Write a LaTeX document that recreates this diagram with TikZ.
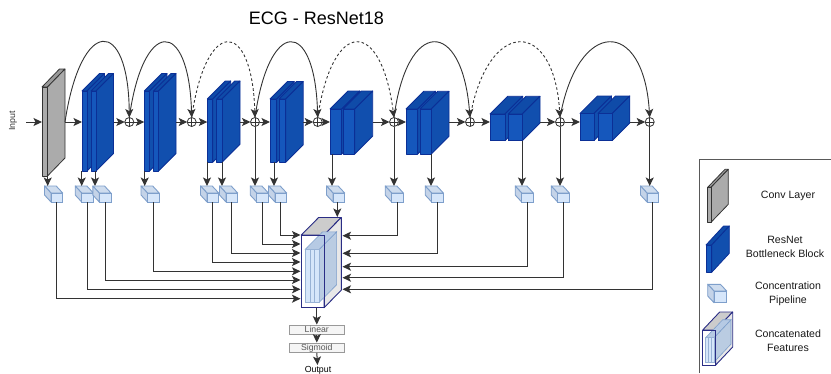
\documentclass[tikz,border=0pt]{standalone}
\usepackage{fontspec}
\setmainfont{Liberation Sans}
\usetikzlibrary{arrows.meta,calc}
\definecolor{blkF}{HTML}{1557BC}
\definecolor{blkT}{HTML}{0F4BA8}
\definecolor{blkS}{HTML}{114FAE}
\definecolor{blkE}{HTML}{0B2F96}
\definecolor{gryF}{HTML}{ABABAB}
\definecolor{gryT}{HTML}{9A9A9A}
\definecolor{gryS}{HTML}{ABABAB}
\definecolor{gryE}{HTML}{333333}
\definecolor{cubF}{HTML}{D6E6FA}
\definecolor{cubT}{HTML}{CEDCEE}
\definecolor{cubS}{HTML}{C4D3E8}
\definecolor{cubE}{HTML}{7E9FCB}
\definecolor{navy}{HTML}{2A2D85}
\definecolor{conn}{HTML}{333333}
\definecolor{innerS}{HTML}{BACCE2}
\tikzset{
  connector/.style={draw=conn,line width=1pt,-{Stealth[length=8.5pt,width=8pt,inset=2pt]}},
  skipline/.style={connector,line width=0.9pt},
  skipdash/.style={skipline,dash pattern=on 2.6pt off 2.4pt},
  plusnode/.style={circle,draw=conn,line width=0.8pt,minimum size=9pt,inner sep=0pt,outer sep=0pt,
    path picture={\draw[conn,line width=0.8pt] (path picture bounding box.north)--(path picture bounding box.south)
      (path picture bounding box.west)--(path picture bounding box.east);}},
  cubeface/.style={draw=cubE,fill=cubF,line width=0.9pt,minimum width=11.7pt,minimum height=9pt,inner sep=0pt,outer sep=0pt},
  headbox/.style={draw=black!40,fill=black!4,line width=1pt,minimum width=55pt,minimum height=9.2pt,inner sep=0pt,
    text=black!65,font=\fontsize{8.7}{9}\selectfont,text height=6.2pt,text depth=1.2pt},
  legendtext/.style={align=center,font=\fontsize{10.6}{13.6}\selectfont,text=black!90},
}
% front rectangle + top + side of a slab; #7 = colour family
\newcommand{\plate}[7]{%
  \draw[draw=#7E,line width=0.8pt,line join=round,fill=#7T] (#1,#2)--(#1+#5,#2-#6)--(#3+#5,#2-#6)--(#3,#2)--cycle;
  \draw[draw=#7E,line width=0.8pt,line join=round,fill=#7S] (#3,#2)--(#3+#5,#2-#6)--(#3+#5,#4-#6)--(#3,#4)--cycle;
  \draw[draw=#7E,line width=0.8pt,line join=round,fill=#7F] (#1,#2) rectangle (#3,#4);
}
% two-slab block: x1 x2 x3 x4 ytop ybot depth
\newcommand{\stackblock}[8]{%
  \plate{#2}{#6}{#3}{#7}{#8}{#8}{blk}
  \plate{#4}{#6}{#5}{#7}{#8}{#8}{blk}
  \coordinate (#1w) at (#2,122);
  \coordinate (#1e) at (#5+#8,122);
}
\newcommand{\cubenode}[2]{%
  \draw[draw=cubE,fill=cubT,line width=0.9pt,line join=round] (#2,193)--(#2+11.7,193)--(#2+5.2,186)--(#2-6.5,186)--cycle;
  \draw[draw=cubE,fill=cubS,line width=0.9pt,line join=round] (#2,193)--(#2,202)--(#2-6.5,195)--(#2-6.5,186)--cycle;
  \node[cubeface] (#1) at (#2+5.85,197.5) {};
  \coordinate (#1t) at (#2-2,186);
}
% x1 y1 x2 y2 dx dy ix1 ix2 iy1
\newcommand{\concatblock}[9]{%
  \draw[draw=navy,line width=0.9pt,line join=round,fill=black!20] (#1,#2)--(#1+#5,#2-#6)--(#3+#5,#2-#6)--(#3,#2)--cycle;
  \draw[draw=navy,line width=0.9pt,line join=round,fill=black!9] (#3,#2)--(#3+#5,#2-#6)--(#3+#5,#4-#6)--(#3,#4)--cycle;
  \pgfmathsetmacro{\iyb}{#4-(#9-#2)*0.38}
  \pgfmathsetmacro{\stp}{(#8-#7)/3}
  \draw[draw=cubE,line width=0.6pt,fill=innerS] (#8,#9)--(#8+#5,#9-#6)--(#8+#5,\iyb-#6)--(#8,\iyb)--cycle;
  \draw[draw=cubE,line width=0.6pt,fill=cubT!70!cubE] (#7,#9)--(#7+#5,#9-#6)--(#8+#5,#9-#6)--(#8,#9)--cycle;
  \foreach \i in {0,1,2} {
    \draw[draw=cubE!80,line width=0.6pt,fill=cubF] ({#7+\i*\stp},#9) rectangle ({#7+(\i+1)*\stp},\iyb);
  }
  \draw[draw=navy,line width=0.9pt] (#1,#2) rectangle (#3,#4);
}
\begin{document}
\begin{tikzpicture}[x=1pt,y=-1pt]
\useasboundingbox (0,0) rectangle (831,373);

\node[font=\fontsize{18}{20}\selectfont] (title) at (316.5,18) {ECG - ResNet18};
\node[rotate=90,font=\fontsize{8.8}{10}\selectfont,text=black!80] (input) at (13,121) {Input};

% blocks
\plate{42}{87}{47.5}{176}{17.5}{18}{gry}
\coordinate (gw) at (42,122);
\coordinate (ge) at (65,122);
\coordinate (inA) at (26,122);
\stackblock{s1}{82}{87}{91}{96}{91}{171}{17.5}
\stackblock{s2}{144.3}{149.5}{153.5}{158.5}{91}{171}{17.5}
\stackblock{s3}{207.3}{212.7}{216.7}{222}{99}{162.3}{18}
\stackblock{s4}{270}{276.7}{279}{285.7}{99}{162.3}{17.5}
\stackblock{s5}{330}{341.7}{343.3}{354.7}{109}{154}{18}
\stackblock{s6}{406}{417.7}{420}{431.3}{109}{154}{17.7}
\stackblock{s7}{490}{505}{508.3}{522.3}{114}{140.7}{17.7}
\stackblock{s8}{580}{594}{598}{612.3}{113.5}{140.5}{17.5}

% plus nodes
\foreach \n/\x in {1/129.3,2/191.7,3/255,4/317.7,5/394,6/470,7/560,8/649.7}
  \node[plusnode] (p\n) at (\x,122) {};

% main line
\draw[connector] (inA) -- (gw);
\draw[connector] (ge) -- (s1w);
\draw[connector] (s1e) -- (p1);
\draw[connector] (p1) -- (s2w);
\draw[connector] (s2e) -- (p2);
\draw[connector] (p2) -- (s3w);
\draw[connector] (s3e) -- (p3);
\draw[connector] (p3) -- (s4w);
\draw[connector] (s4e) -- (p4);
\draw[connector] (p4) -- (s5w);
\draw[connector] (s5e) -- (p5);
\draw[connector] (p5) -- (s6w);
\draw[connector] (s6e) -- (p6);
\draw[connector] (p6) -- (s7w);
\draw[connector] (s7e) -- (p7);
\draw[connector] (p7) -- (s8w);
\draw[connector] (s8e) -- (p8);

% skip arcs
\draw[skipline] (ge) .. controls +(16,-106) and +(-1,-101) .. (p1.north);
\draw[skipline] (p1.north) .. controls +(14,-100) and +(-3,-100) .. (p2.north);
\draw[skipdash] (p2.north) .. controls +(14,-100) and +(-3,-100) .. (p3.north);
\draw[skipline] (p3.north) .. controls +(14,-100) and +(-3,-100) .. (p4.north);
\draw[skipdash] (p4.north) .. controls +(15,-100) and +(-13,-100) .. (p5.north);
\draw[skipline] (p5.north) .. controls +(13,-100) and +(-8,-100) .. (p6.north);
\draw[skipdash] (p6.north) .. controls +(18,-100) and +(-6,-100) .. (p7.north);
\draw[skipline] (p7.north) .. controls +(18,-100) and +(-6,-100) .. (p8.north);

% cubes
\cubenode{c1}{51}
\cubenode{c2}{81.7}
\cubenode{c3}{99.3}
\cubenode{c4}{147.5}
\cubenode{c5}{207}
\cubenode{c6}{226}
\cubenode{c7}{256.7}
\cubenode{c8}{275}
\cubenode{c9}{333}
\cubenode{c10}{391.7}
\cubenode{c11}{431.7}
\cubenode{c12}{521.7}
\cubenode{c13}{557.7}
\cubenode{c14}{647}

% taps
\foreach \n/\x/\y in {1/47.7/176,2/81.7/171,3/95/171,4/144.7/171,5/207/162.3,6/222/162.3,8/274/162.3,9/332/154,11/431/154,12/522/140.7}{
  \coordinate (d\n) at (\x,\y);
  \draw[connector] (d\n) -- (d\n |- c\n t);
}
\draw[connector] (p3.south) -- (p3.south |- c7t);
\draw[connector] (p5.south) -- (p5.south |- c10t);
\draw[connector] (p7.south) -- (p7.south |- c13t);
\draw[connector] (p8.south) -- (p8.south |- c14t);

% concatenated block
\concatblock{301.3}{235}{324}{307.7}{17.3}{17.5}{305.3}{319.3}{249.3}
\node[minimum width=22.7pt,minimum height=72.7pt,inner sep=0pt,outer sep=0pt] (concat) at (312.65,271.35) {};

\foreach \n/\y in {8/235,7/244,6/253,5/262,4/271.3,3/280,2/289.3,1/298.7}{
  \coordinate (l\n) at (300.5,\y);
  \draw[connector] (c\n.south) |- (l\n);
}
\foreach \n/\y in {10/235.7,11/253.3,12/266.7,13/277.7,14/289.3}{
  \coordinate (r\n) at (342.5,\y);
  \draw[connector] (c\n.south) |- (r\n);
}
\coordinate (ct) at (337.3,217);
\draw[connector] (c9.south -| ct) -- (ct);

% head
\node[headbox] (lin) at (316.8,329.7) {Linear};
\node[headbox] (sig) at (316.8,347.7) {Sigmoid};
\node[font=\fontsize{8.8}{10}\selectfont,inner sep=0pt] (out) at (318,370) {Output};
\coordinate (ot) at (317.5,365);
\draw[connector] (concat.south -| lin.north) -- (lin.north);
\draw[connector] (lin.south) -- (sig.north);
\draw[connector] (sig.south) -- (ot);

% legend
\coordinate (lg1) at (699.3,373);
\coordinate (lg2) at (699.3,159);
\coordinate (lg3) at (831,159);
\draw[draw=black!65,line width=1pt] (lg1) -- (lg2) -- (lg3);
\plate{707.7}{187.3}{711}{222.3}{17.3}{18}{gry}
\plate{706}{245}{711.7}{272.3}{17.6}{19}{blk}
\draw[draw=cubE,fill=cubT,line width=0.9pt,line join=round] (714,291)--(726.7,291)--(720.4,284.3)--(707.7,284.3)--cycle;
\draw[draw=cubE,fill=cubS,line width=0.9pt,line join=round] (714,291)--(714,302.7)--(707.7,296)--(707.7,284.3)--cycle;
\node[cubeface,minimum width=12.7pt,minimum height=11.7pt] (lgc) at (720.35,296.85) {};
\concatblock{702.7}{330}{715.7}{365}{17}{18}{705.7}{714}{337.7}
\node[legendtext] (t1) at (788,195.7) {Conv Layer};
\node[legendtext] (t2) at (785,246.6) {ResNet\\Bottleneck Block};
\node[legendtext] (t3) at (788,294) {Concentration\\Pipeline};
\node[legendtext] (t4) at (788,340.8) {Concatenated\\Features};
\end{tikzpicture}
\end{document}
